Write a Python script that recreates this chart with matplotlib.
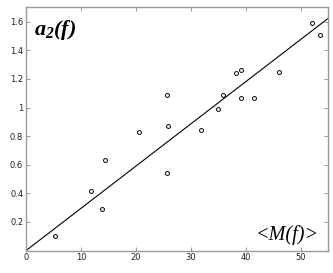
import matplotlib
matplotlib.use('Agg')
import numpy as np
import matplotlib.pyplot as plt

# points: <M(f)> vs a2(f)
m_f = [5.2, 11.8, 14.3, 13.9, 20.6, 25.7, 25.9, 25.7, 31.8,
       34.9, 35.9, 38.2, 39.2, 39.1, 41.6, 46.1, 52.1, 53.6]
a2_f = [0.10, 0.42, 0.63, 0.29, 0.83, 1.09, 0.87, 0.54, 0.84,
        0.99, 1.09, 1.24, 1.26, 1.07, 1.07, 1.25, 1.59, 1.51]

# fitted line (through origin)
fit_slope = 0.0295
fit_icpt = 0.0

xticks = [0, 10, 20, 30, 40, 50]
yticks = [0.2, 0.4, 0.6, 0.8, 1.0, 1.2, 1.4, 1.6]
ylabels = ['0.2', '0.4', '0.6', '0.8', '1', '1.2', '1.4', '1.6']

plt.rcParams['mathtext.fontset'] = 'custom'
plt.rcParams['mathtext.it'] = 'Liberation Serif:italic:bold'
plt.rcParams['mathtext.rm'] = 'Liberation Serif:italic:bold'

fig = plt.figure(figsize=(3.33, 2.73), dpi=100)
ax = fig.add_axes([0.078, 0.082, 0.907, 0.891])

xl = np.array([0, 55])
ax.plot(xl, fit_slope * xl + fit_icpt, color='black', lw=0.8)
ax.plot(m_f, a2_f, 'o', mfc='none', mec='black', ms=2.8, mew=0.7)

ax.set_xlim(0, 55)
ax.set_ylim(0, 1.7)
ax.set_xticks(xticks)
ax.set_yticks(yticks)
ax.set_yticklabels(ylabels)
ax.tick_params(direction='in', length=3, width=0.6, top=True, right=True,
               labelsize=6, colors='#888888', labelcolor='#222222', pad=2)
for s in ax.spines.values():
    s.set_color('#999999')
    s.set_linewidth(1.0)

ax.text(0.025, 0.955, r'$a_2(f)$', transform=ax.transAxes, fontsize=16,
        va='top', ha='left')
ax.text(0.97, 0.025, '<M(f)>', transform=ax.transAxes, fontsize=14.5,
        family='Liberation Serif', style='italic', va='bottom', ha='right')

fig.savefig('out.png', dpi=100)
